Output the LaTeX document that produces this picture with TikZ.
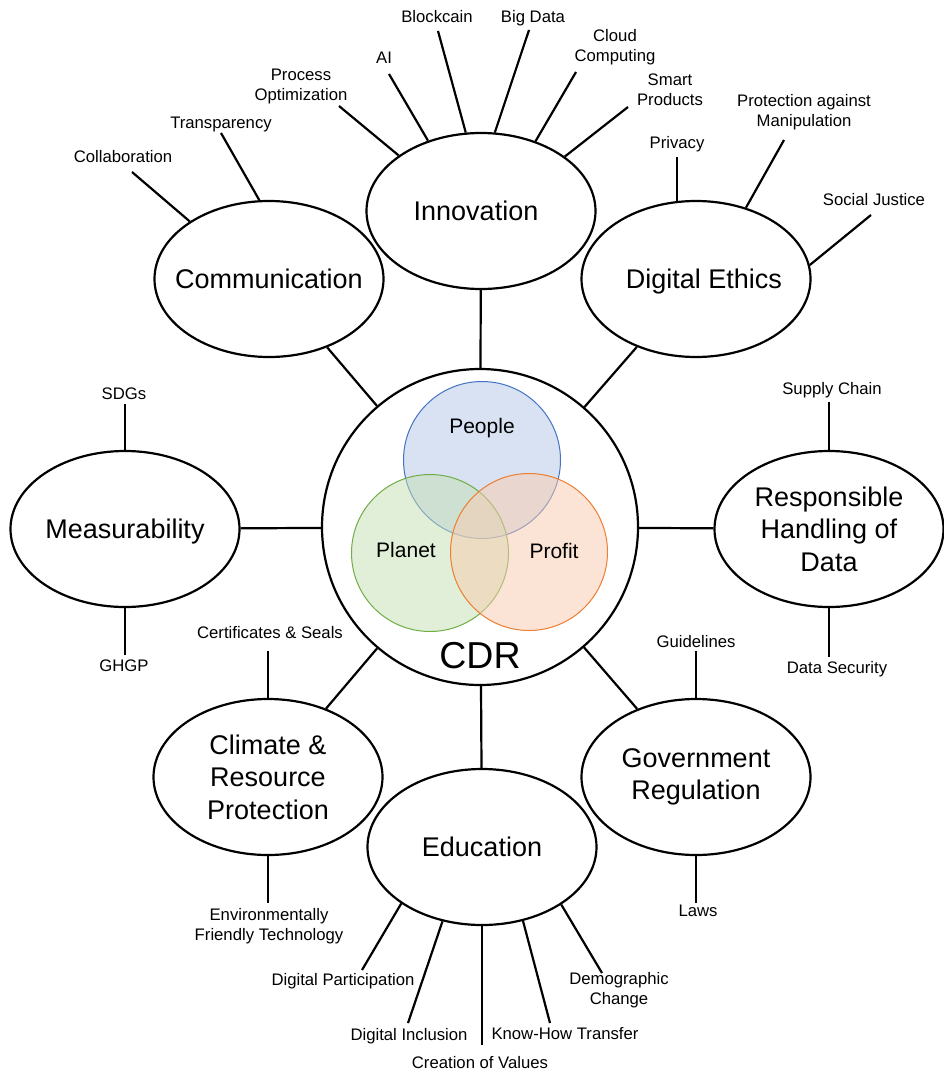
\documentclass[tikz,border=0pt]{standalone}
\usepackage{fontspec}
\setmainfont{Liberation Sans}
\usetikzlibrary{shapes.geometric}
\definecolor{peoplefill}{RGB}{180,199,231}
\definecolor{peopleline}{RGB}{68,114,196}
\definecolor{planetfill}{RGB}{197,224,179}
\definecolor{planetline}{RGB}{112,173,71}
\definecolor{profitfill}{RGB}{248,203,173}
\definecolor{profitline}{RGB}{237,125,49}
\newcommand{\leaffont}{\fontsize{16.7}{20}\selectfont}
\newcommand{\topicfont}{\fontsize{27}{32.5}\selectfont}
\newcommand{\vennfont}{\fontsize{21}{25}\selectfont}
\newcommand{\cdrfont}{\fontsize{37.5}{45}\selectfont}

\begin{document}
\begin{tikzpicture}[x=1pt,y=-1pt,
        topic/.style={draw,ellipse,line width=2.2pt,minimum width=229pt,minimum height=156pt,inner sep=0pt},
        topictext/.style={align=center,inner sep=0pt,font=\topicfont},
        leaf/.style={align=center,inner sep=0pt,font=\leaffont},
        hub/.style={draw,circle,line width=2.2pt,minimum size=316pt,inner sep=0pt},
        venn/.style={draw,circle,line width=1pt,minimum size=157pt,inner sep=0pt,fill opacity=0.5},
        vennlabel/.style={inner sep=0pt,font=\vennfont},
        link/.style={line width=2.2pt}]
        \path[use as bounding box,fill=white] (0,0) rectangle (944,1073);

        \node[hub] (cdr) at (480,527) {};
        \node[venn,draw=peopleline,fill=peoplefill] (people) at (482,460) {};
        \node[venn,draw=planetline,fill=planetfill] (planet) at (430,553) {};
        \node[venn,draw=profitline,fill=profitfill] (profit) at (529,552) {};
        \node[vennlabel] (people-t) at (482,428) {People};
        \node[vennlabel] (planet-t) at (406,550) {Planet};
        \node[vennlabel] (profit-t) at (554,551) {Profit};
        \node[inner sep=0pt,font=\cdrfont] (cdr-t) at (480,656) {CDR};

        \node[topic,label={[topictext]center:Communication}] (comm) at (269,279) {};
        \node[topic,label={[topictext,xshift=-5pt]center:Innovation}] (inno) at (481,211) {};
        \node[topic,label={[topictext,text depth=0pt,xshift=8pt]center:Digital Ethics}] (ethics) at (696,279) {};
        \node[topic,label={[topictext,text depth=0pt]center:Measurability}] (meas) at (125,529) {};
        \node[topic,label={[topictext]center:{Responsible\\Handling of\\Data}}] (data) at (829,529) {};
        \node[topic,label={[topictext]center:{Climate \&\\Resource\\Protection}}] (climate) at (268,777) {};
        \node[topic,label={[topictext]center:Education}] (edu) at (482,847) {};
        \node[topic,label={[topictext]center:{Government\\Regulation}}] (gov) at (696,777) {};

        \draw[link] (cdr) -- (comm);
        \draw[link] (cdr) -- (inno);
        \draw[link] (cdr) -- (ethics);
        \draw[link] (cdr) -- (meas);
        \draw[link] (cdr) -- (data);
        \draw[link] (cdr) -- (climate);
        \draw[link] (cdr) -- (edu);
        \draw[link] (cdr) -- (gov);

        \node[leaf] (collab) at (123,157) {Collaboration};
        \node[leaf] (transp) at (221,124) {Transparency};
        \coordinate (collab-e) at (132,172);
        \coordinate (transp-e) at (221,133);
        \draw[link] (collab-e) -- (comm.144);
        \draw[link] (transp-e) -- (comm.97);

        \node[leaf] (procopt) at (301,86) {Process\\Optimization};
        \node[leaf] (ai) at (384,58) {AI};
        \node[leaf] (block) at (437,17) {Blockcain};
        \node[leaf] (bigdata) at (533,18) {Big Data};
        \node[leaf] (cloud) at (615,47) {Cloud\\Computing};
        \node[leaf] (smart) at (670,90) {Smart\\Products};
        \coordinate (procopt-e) at (339,106);
        \coordinate (ai-e) at (389,74);
        \coordinate (block-e) at (438,31);
        \coordinate (bigdata-e) at (529,30);
        \coordinate (cloud-e) at (576,72);
        \coordinate (smart-e) at (628,107);
        \draw[link] (procopt-e) -- (inno.146);
        \draw[link] (ai-e) -- (inno.127);
        \draw[link] (block-e) -- (inno.101);
        \draw[link] (bigdata-e) -- (inno.80);
        \draw[link] (cloud-e) -- (inno.52);
        \draw[link] (smart-e) -- (inno.33);

        \node[leaf] (privacy) at (677,144) {Privacy};
        \node[leaf] (protect) at (804,112) {Protection against\\Manipulation};
        \node[leaf] (social) at (874,200) {Social Justice};
        \coordinate (privacy-e) at (677,157);
        \coordinate (protect-e) at (784,140);
        \coordinate (social-e) at (871,215);
        \draw[link] (privacy-e) -- (privacy-e |- ethics.103);
        \draw[link] (protect-e) -- (ethics.55);
        \draw[link] (social-e) -- (ethics.7);

        \node[leaf] (sdgs) at (124,394) {SDGs};
        \node[leaf] (ghgp) at (124,666) {GHGP};
        \coordinate (sdgs-e) at (125,404);
        \coordinate (ghgp-e) at (125,655);
        \draw[link] (sdgs-e) -- (meas.north);
        \draw[link] (meas.south) -- (ghgp-e);

        \node[leaf] (supply) at (832,390) {Supply Chain};
        \node[leaf] (datasec) at (837,669) {Data Security};
        \coordinate (supply-e) at (829,402);
        \coordinate (datasec-e) at (829,657);
        \draw[link] (supply-e) -- (data.north);
        \draw[link] (data.south) -- (datasec-e);

        \node[leaf] (certs) at (270,633) {Certificates \& Seals};
        \node[leaf] (envtech) at (269,926) {Environmentally\\Friendly Technology};
        \coordinate (certs-e) at (268,651);
        \coordinate (envtech-e) at (268,903);
        \draw[link] (certs-e) -- (climate.north);
        \draw[link] (climate.south) -- (envtech-e);

        \node[leaf] (guide) at (696,642) {Guidelines};
        \node[leaf] (laws) at (698,911) {Laws};
        \coordinate (guide-e) at (696,651);
        \coordinate (laws-e) at (696,903);
        \draw[link] (guide-e) -- (gov.north);
        \draw[link] (gov.south) -- (laws-e);

        \node[leaf] (digpart) at (343,981) {Digital Participation};
        \node[leaf] (digincl) at (409,1036) {Digital Inclusion};
        \node[leaf] (values) at (480,1063) {Creation of Values};
        \node[leaf] (knowhow) at (565,1034) {Know-How Transfer};
        \node[leaf] (demo) at (619,990) {Demographic\\Change};
        \coordinate (digpart-e) at (362,970);
        \coordinate (digincl-e) at (408,1023);
        \coordinate (values-e) at (482,1045);
        \coordinate (knowhow-e) at (550,1023);
        \coordinate (demo-e) at (602,973);
        \draw[link] (edu.215) -- (digpart-e);
        \draw[link] (edu.242) -- (digincl-e);
        \draw[link] (edu.south) -- (values-e);
        \draw[link] (edu.299) -- (knowhow-e);
        \draw[link] (edu.324) -- (demo-e);
    \end{tikzpicture}
\end{document}
